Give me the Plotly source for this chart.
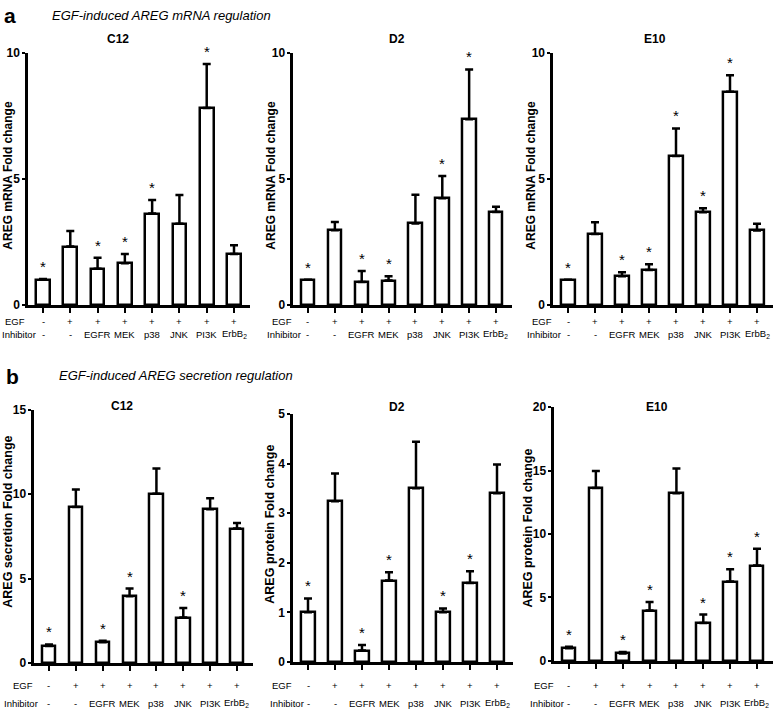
import plotly.graph_objects as go

W, H = 778, 717

# ---------------- data ----------------
egf_row = ["-", "+", "+", "+", "+", "+", "+", "+"]
inhibitor_row = ["-", "-", "EGFR", "MEK", "p38", "JNK", "PI3K", "ErbB<sub>2</sub>"]
cells = ["C12", "D2", "E10"]

# Panel a: AREG mRNA fold change (mean, upper SEM)
a_c12_mean = [1.0, 2.32, 1.44, 1.66, 3.63, 3.23, 7.82, 2.03]
a_c12_err = [0.03, 0.62, 0.44, 0.37, 0.54, 1.14, 1.75, 0.34]
a_c12_sig = [1, 0, 1, 1, 1, 0, 1, 0]

a_d2_mean = [1.0, 2.97, 0.92, 0.97, 3.24, 4.24, 7.37, 3.69]
a_d2_err = [0.0, 0.33, 0.43, 0.17, 1.14, 0.88, 1.98, 0.21]
a_d2_sig = [1, 0, 1, 1, 0, 1, 1, 0]

a_e10_mean = [1.0, 2.82, 1.14, 1.39, 5.92, 3.68, 8.47, 2.96]
a_e10_err = [0.0, 0.47, 0.16, 0.23, 1.09, 0.16, 0.65, 0.27]
a_e10_sig = [1, 0, 1, 1, 1, 1, 1, 0]

# Panel b: AREG secretion / protein fold change
b_c12_mean = [1.0, 9.25, 1.22, 3.95, 10.03, 2.69, 9.12, 7.97]
b_c12_err = [0.10, 1.03, 0.10, 0.46, 1.50, 0.56, 0.65, 0.33]
b_c12_sig = [1, 0, 1, 1, 0, 1, 0, 0]

b_d2_mean = [1.0, 3.24, 0.23, 1.64, 3.50, 1.0, 1.59, 3.40]
b_d2_err = [0.28, 0.56, 0.11, 0.17, 0.94, 0.08, 0.24, 0.58]
b_d2_sig = [1, 0, 1, 1, 0, 1, 1, 0]

b_e10_mean = [1.0, 13.63, 0.59, 3.97, 13.21, 2.99, 6.25, 7.51]
b_e10_err = [0.13, 1.34, 0.11, 0.68, 1.94, 0.67, 0.98, 1.32]
b_e10_sig = [1, 0, 1, 1, 0, 1, 1, 1]

a_ytitle = "AREG mRNA Fold change"
b_ytitles = ["AREG secretion Fold change", "AREG protein Fold change", "AREG protein Fold change"]
a_title = "EGF-induced AREG mRNA regulation"
b_title = "EGF-induced AREG secretion regulation"

a_yticks = [0, 5, 10]
b_yticks = [[0, 5, 10, 15], [0, 1, 2, 3, 4, 5], [0, 5, 10, 15, 20]]

# ---------------- layout helpers ----------------
def px_x(p):
    return p / W

def px_y(p):
    return 1 - p / H

XR = [-0.55, 7.6]
SANS = "Liberation Sans, Arial"
LBL = 9.5

panels = [
    dict(m=a_c12_mean, e=a_c12_err, s=a_c12_sig, yt=a_yticks, ytitle=a_ytitle, bx=(43, 234), by=(47, 304),
         tx=(8, 172), ts=12, hx=(15, 19), ry=(321, 334), name=cells[0], nx=(118, 33)),
    dict(m=a_d2_mean, e=a_d2_err, s=a_d2_sig, yt=a_yticks, ytitle=a_ytitle, bx=(308, 496), by=(47, 304),
         tx=(271, 172), ts=12, hx=(282, 284), ry=(321, 334), name=cells[1], nx=(397, 33)),
    dict(m=a_e10_mean, e=a_e10_err, s=a_e10_sig, yt=a_yticks, ytitle=a_ytitle, bx=(568, 757), by=(47, 304),
         tx=(531, 172), ts=12, hx=(542, 544), ry=(321, 334), name=cells[2], nx=(655, 33)),
    dict(m=b_c12_mean, e=b_c12_err, s=b_c12_sig, yt=b_yticks[0], ytitle=b_ytitles[0], bx=(49, 237), by=(411, 669),
         tx=(8, 525), ts=12.5, hx=(23, 21), ry=(692, 710), name=cells[0], nx=(122, 407)),
    dict(m=b_d2_mean, e=b_d2_err, s=b_d2_sig, yt=b_yticks[1], ytitle=b_ytitles[1], bx=(308, 497), by=(415, 668),
         tx=(270, 528), ts=12.5, hx=(282, 287), ry=(692, 710), name=cells[1], nx=(397, 408)),
    dict(m=b_e10_mean, e=b_e10_err, s=b_e10_sig, yt=b_yticks[2], ytitle=b_ytitles[2], bx=(569, 757), by=(408, 667),
         tx=(528, 532), ts=12.5, hx=(544, 547), ry=(692, 710), name=cells[2], nx=(657, 408)),
]

fig = go.Figure()
annotations = []
layout = {}

for k, p in enumerate(panels, start=1):
    xa = "x" if k == 1 else f"x{k}"
    ya = "y" if k == 1 else f"y{k}"
    first, last = p["bx"]
    s = (last - first) / 7
    left = first + XR[0] * s
    right = first + XR[1] * s
    top, bottom = p["by"]
    ymax = p["yt"][-1]

    fig.add_trace(go.Bar(
        x=list(range(8)), y=p["m"], width=0.5, xaxis=xa, yaxis=ya,
        marker=dict(color="white", line=dict(color="black", width=2.5)),
        error_y=dict(type="data", symmetric=False, array=p["e"], arrayminus=[0] * 8,
                     color="black", thickness=2.5, width=4),
        showlegend=False, hoverinfo="skip",
    ))

    layout[f"xaxis{'' if k == 1 else k}"] = dict(
        domain=[px_x(left), px_x(right)], range=XR, anchor=ya,
        showline=True, linecolor="black", linewidth=2.5, mirror=False,
        ticks="outside", ticklen=5, tickwidth=2, tickcolor="black",
        tickvals=list(range(8)), showticklabels=False, showgrid=False, zeroline=False, fixedrange=True,
    )
    layout[f"yaxis{'' if k == 1 else k}"] = dict(
        domain=[px_y(bottom), px_y(top)], range=[0, ymax], anchor=xa,
        showline=True, linecolor="black", linewidth=2.5,
        ticks="outside", ticklen=3, tickwidth=2, tickcolor="black",
        tickvals=p["yt"], ticktext=[str(v) for v in p["yt"]],
        tickfont=dict(family=SANS, size=12, color="black", weight="bold"),
        ticklabelstandoff=0,
        showgrid=False, zeroline=False, fixedrange=True,
    )

    # significance stars
    for i, (m, e, sg) in enumerate(zip(p["m"], p["e"], p["s"])):
        if sg:
            annotations.append(dict(x=i, y=m + e, xref=xa, yref=ya, text="*", showarrow=False,
                                    yanchor="bottom", yshift=2,
                                    font=dict(family=SANS, size=15, color="black")))
    # treatment rows
    for i in range(8):
        annotations.append(dict(x=i, y=px_y(p["ry"][0]), xref=xa, yref="paper", text=egf_row[i],
                                showarrow=False, yanchor="middle",
                                font=dict(family=SANS, size=LBL, color="black")))
        annotations.append(dict(x=i, y=px_y(p["ry"][1]), xref=xa, yref="paper", text=inhibitor_row[i],
                                showarrow=False, yanchor="middle",
                                font=dict(family=SANS, size=LBL, color="black")))
    annotations.append(dict(x=px_x(p["hx"][0]), y=px_y(p["ry"][0]), xref="paper", yref="paper", text="EGF",
                            showarrow=False, yanchor="middle", xanchor="center",
                            font=dict(family=SANS, size=LBL, color="black")))
    annotations.append(dict(x=px_x(p["hx"][1]), y=px_y(p["ry"][1]), xref="paper", yref="paper", text="Inhibitor",
                            showarrow=False, yanchor="middle", xanchor="center",
                            font=dict(family=SANS, size=LBL, color="black")))
    # y title
    annotations.append(dict(x=px_x(p["tx"][0]), y=px_y(p["tx"][1]), xref="paper", yref="paper",
                            text=p["ytitle"], textangle=-90, showarrow=False,
                            xanchor="center", yanchor="middle",
                            font=dict(family=SANS, size=p["ts"], color="black", weight="bold")))
    # cell-line title
    annotations.append(dict(x=px_x(p["nx"][0]), y=px_y(p["nx"][1]), xref="paper", yref="paper",
                            text=p["name"], showarrow=False, xanchor="center", yanchor="middle",
                            font=dict(family=SANS, size=12, color="black", weight="bold")))

# panel letters and titles
annotations += [
    dict(x=px_x(10), y=px_y(9), xref="paper", yref="paper", text="<b>a</b>", showarrow=False,
         xanchor="center", yanchor="middle", font=dict(family=SANS, size=21, color="black")),
    dict(x=px_x(50), y=px_y(9), xref="paper", yref="paper", text=f"<i>{a_title}</i>", showarrow=False,
         xanchor="left", yanchor="middle", font=dict(family=SANS, size=13, color="black")),
    dict(x=px_x(12), y=px_y(377), xref="paper", yref="paper", text="<b>b</b>", showarrow=False,
         xanchor="center", yanchor="middle", font=dict(family=SANS, size=21, color="black")),
    dict(x=px_x(57), y=px_y(376), xref="paper", yref="paper", text=f"<i>{b_title}</i>", showarrow=False,
         xanchor="left", yanchor="middle", font=dict(family=SANS, size=13, color="black")),
]

fig.update_layout(
    width=W, height=H, margin=dict(l=0, r=0, t=0, b=0),
    paper_bgcolor="white", plot_bgcolor="white",
    annotations=annotations, bargap=0, **layout,
)

fig.write_html("out.html", config={"displayModeBar": False},
               post_script="document.body.style.margin='0';document.body.style.overflow='hidden';")
